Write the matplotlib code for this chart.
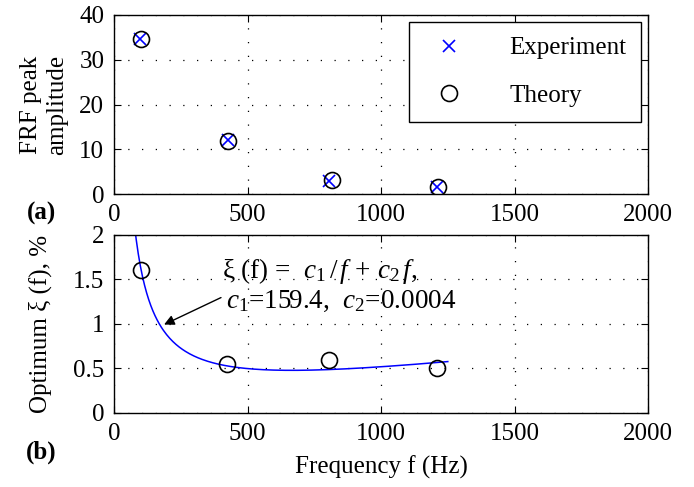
import numpy as np
import matplotlib
matplotlib.use("Agg")
import matplotlib.pyplot as plt

plt.rcParams['font.family'] = ['Liberation Serif', 'DejaVu Serif']
plt.rcParams['mathtext.fontset'] = 'custom'
plt.rcParams['mathtext.rm'] = 'Liberation Serif'
plt.rcParams['mathtext.it'] = 'Liberation Serif:italic'
plt.rcParams['font.size'] = 18

# (a) FRF peak amplitude
f_exp = [98, 425, 806, 1208]
amp_exp = [34.6, 12.0, 3.0, 1.6]
f_theory = [100, 428, 818, 1215]
amp_theory = [34.6, 11.8, 3.1, 1.65]

# (b) optimum damping
f_opt = [100, 424, 806, 1208]
xi_opt = [1.61, 0.55, 0.60, 0.50]
c1, c2 = 159.4, 0.00036
f_fit = np.linspace(75, 1250, 300)
xi_fit = c1 / f_fit + c2 * f_fit

xticks = [0, 500, 1000, 1500, 2000]


def style(ax):
    ax.grid(True, linestyle=(0, (1, 10)), color='black', linewidth=0.9)
    ax.tick_params(direction='in', top=True, right=True, length=5, width=0.8, pad=7)
    for s in ax.spines.values():
        s.set_linewidth(1.0)
    ax.set_xlim(0, 2000)
    ax.set_xticks(xticks)


fig = plt.figure(figsize=(6.94, 4.87), dpi=100)
ax1 = fig.add_axes([0.1643, 0.6016, 0.7695, 0.3676])
ax2 = fig.add_axes([0.1643, 0.152, 0.7695, 0.3655])

ax1.plot(f_exp, amp_exp, 'x', color='blue', markersize=8, markeredgewidth=1.2,
         label='Experiment', zorder=3)
ax1.plot(f_theory, amp_theory, 'o', mfc='none', mec='black', markersize=11.5,
         markeredgewidth=1.2, label='Theory', zorder=3)
style(ax1)
ax1.set_ylim(0, 40)
ax1.set_yticks([0, 10, 20, 30, 40])
ax1.set_ylabel('FRF peak\namplitude', linespacing=1.25, labelpad=8)
leg = ax1.legend(loc='upper right', bbox_to_anchor=(0.987, 0.961), fancybox=False,
                 edgecolor='black', framealpha=1, borderpad=0.6, labelspacing=1.0,
                 handletextpad=1.4, handlelength=2.0, borderaxespad=0)
leg.get_frame().set_linewidth(1.0)
fig.text(0.06, 0.562, '(a)', fontweight='bold', ha='center', va='center')

ax2.plot(f_fit, xi_fit, color='blue', linewidth=1.1)
ax2.plot(f_opt, xi_opt, 'o', mfc='none', mec='black', markersize=11.5,
         markeredgewidth=1.2, zorder=3)
style(ax2)
ax2.set_ylim(0, 2)
ax2.set_yticks([0, 0.5, 1, 1.5, 2])
ax2.set_yticklabels(['0', '0.5', '1', '1.5', '2'])
ax2.set_ylabel('Optimum ξ (f), %', labelpad=15)
ax2.set_xlabel('Frequency f (Hz)', labelpad=8)
ax2.text(403, 1.6, r'ξ (f) =  $c_1\,/\,f\, +\, c_2\, f$,', fontsize=19.5, va='center')
ax2.text(418, 1.25, r'$c_1$=159.4,  $c_2$=0.0004', fontsize=19.5, va='center')
ax2.annotate('', xy=(178, 0.98), xytext=(410, 1.31),
             arrowprops=dict(arrowstyle='-|>', color='black', lw=1.0,
                             mutation_scale=15))
fig.text(0.06, 0.072, '(b)', fontweight='bold', ha='center', va='center')

fig.savefig('out.png', dpi=100)
